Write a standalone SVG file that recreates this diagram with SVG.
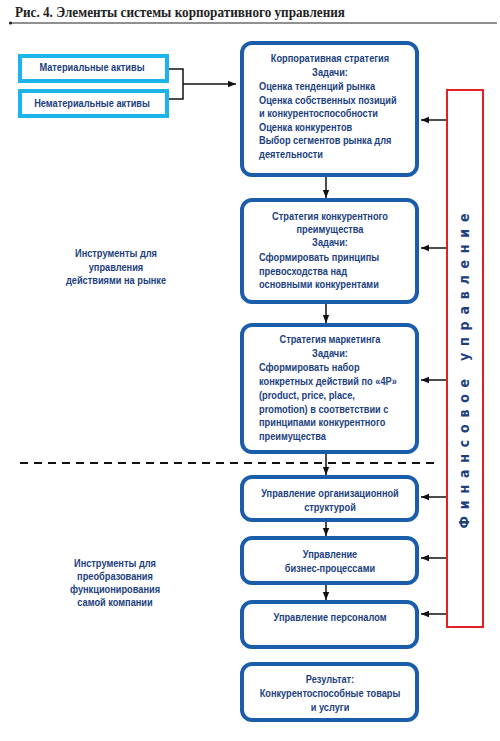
<svg xmlns="http://www.w3.org/2000/svg" width="500" height="741" viewBox="0 0 500 741">
<defs>
<marker id="ah" viewBox="0 0 10 10" refX="10" refY="5" markerWidth="8" markerHeight="8" markerUnits="userSpaceOnUse" orient="auto">
<path d="M0,1 L10,5 L0,9 z" fill="#111"/>
</marker>
<style>
.t{font-family:"Liberation Sans",Arial,sans-serif;font-weight:bold;font-size:11px;fill:#1c3f80}
.c{text-anchor:middle}
.box{fill:#fff;stroke:#1a5eab;stroke-width:4}
.lb{fill:#fff;stroke:#1cb4ea;stroke-width:4}
.cn{fill:none;stroke:#111;stroke-width:1.5}
.ar{fill:none;stroke:#111;stroke-width:1.5;marker-end:url(#ah)}
</style>
</defs>
<rect width="500" height="741" fill="#fff"/>
<g id="title">
<text x="15" y="17" font-family="Liberation Serif,serif" font-weight="bold" font-size="14" fill="#222" textLength="330" lengthAdjust="spacingAndGlyphs">Рис. 4. Элементы системы корпоративного управления</text>
<line x1="10" y1="23" x2="497" y2="23" stroke="#222" stroke-width="1.2"/>
<circle cx="10.5" cy="23" r="1.6" fill="#222"/>
</g>
<g id="connectors">
<polyline class="cn" points="168,69 183,69 183,99 168,99"/>
<line class="ar" x1="183" y1="84" x2="236" y2="84"/>
<line class="ar" x1="326" y1="176" x2="326" y2="198"/>
<line class="ar" x1="326" y1="303" x2="326" y2="323"/>
<line class="ar" x1="326" y1="453" x2="326" y2="475"/>
<line class="ar" x1="326" y1="521" x2="326" y2="536"/>
<line class="ar" x1="326" y1="584" x2="326" y2="600"/>
<line class="ar" x1="447" y1="120" x2="421" y2="120"/>
<line class="ar" x1="447" y1="248" x2="421" y2="248"/>
<line class="ar" x1="447" y1="380" x2="421" y2="380"/>
<line class="ar" x1="447" y1="497" x2="421" y2="497"/>
<line class="ar" x1="447" y1="558" x2="421" y2="558"/>
<line class="ar" x1="447" y1="614" x2="421" y2="614"/>
<line x1="20" y1="463" x2="440" y2="463" stroke="#111" stroke-width="2" stroke-dasharray="8,6"/>
</g>
<g id="tangible">
<rect class="lb" x="20" y="56" width="147" height="25"/>
<text class="t c" transform="translate(92 0) scale(0.84 1)" x="0" y="71">Материальные активы</text>
</g>
<g id="intangible">
<rect class="lb" x="20" y="91" width="147" height="25"/>
<text class="t c" transform="translate(92 0) scale(0.84 1)" x="0" y="107">Нематериальные активы</text>
</g>
<g id="corp-strategy">
<rect class="box" x="242" y="43" width="175" height="132" rx="10"/>
<g transform="translate(330 0) scale(0.84 1)">
<text class="t c" x="0" y="62">Корпоративная стратегия</text>
<text class="t c" x="0" y="76">Задачи:</text>
<text class="t" x="-84.5" y="90">Оценка тенденций рынка</text>
<text class="t" x="-84.5" y="104">Оценка собственных позиций</text>
<text class="t" x="-84.5" y="117">и конкурентоспособности</text>
<text class="t" x="-84.5" y="131">Оценка конкурентов</text>
<text class="t" x="-84.5" y="144">Выбор сегментов рынка для</text>
<text class="t" x="-84.5" y="158">деятельности</text>
</g>
</g>
<g id="comp-strategy">
<rect class="box" x="242" y="200" width="175" height="102" rx="10"/>
<g transform="translate(330 0) scale(0.84 1)">
<text class="t c" x="0" y="220">Стратегия конкурентного</text>
<text class="t c" x="0" y="233">преимущества</text>
<text class="t c" x="0" y="246">Задачи:</text>
<text class="t" x="-84.5" y="261">Сформировать принципы</text>
<text class="t" x="-84.5" y="275">превосходства над</text>
<text class="t" x="-84.5" y="288">основными конкурентами</text>
</g>
</g>
<g id="marketing">
<rect class="box" x="242" y="325" width="175" height="127" rx="10"/>
<g transform="translate(330 0) scale(0.84 1)">
<text class="t c" x="0" y="343">Стратегия маркетинга</text>
<text class="t c" x="0" y="357">Задачи:</text>
<text class="t" x="-84.5" y="371">Сформировать набор</text>
<text class="t" x="-84.5" y="385">конкретных действий по «4P»</text>
<text class="t" x="-84.5" y="399">(product, price, place,</text>
<text class="t" x="-84.5" y="413">promotion) в соответствии с</text>
<text class="t" x="-84.5" y="426">принципами конкурентного</text>
<text class="t" x="-84.5" y="440">преимущества</text>
</g>
</g>
<g id="org-structure">
<rect class="box" x="242" y="477" width="175" height="43" rx="10"/>
<g transform="translate(330 0) scale(0.84 1)">
<text class="t c" x="0" y="497">Управление организационной</text>
<text class="t c" x="0" y="511">структурой</text>
</g>
</g>
<g id="business-processes">
<rect class="box" x="242" y="538" width="175" height="45" rx="10"/>
<g transform="translate(330 0) scale(0.84 1)">
<text class="t c" x="0" y="558">Управление</text>
<text class="t c" x="0" y="572">бизнес-процессами</text>
</g>
</g>
<g id="personnel">
<rect class="box" x="242" y="602" width="175" height="45" rx="10"/>
<text class="t c" transform="translate(330 0) scale(0.84 1)" x="0" y="621">Управление персоналом</text>
</g>
<g id="result">
<rect class="box" x="242" y="664" width="175" height="56" rx="10"/>
<g transform="translate(330 0) scale(0.84 1)">
<text class="t c" x="0" y="683">Результат:</text>
<text class="t c" x="0" y="697">Конкурентоспособные товары</text>
<text class="t c" x="0" y="711">и услуги</text>
</g>
</g>
<g id="finance">
<rect x="447" y="90" width="36" height="537" fill="#fff" stroke="#e31e24" stroke-width="2"/>
<text transform="translate(469,371) rotate(-90)" text-anchor="middle" font-family="DejaVu Sans Condensed,sans-serif" font-weight="bold" font-size="14" fill="#1c3f80" textLength="315" lengthAdjust="spacing">Финансовое управление</text>
</g>
<g id="label-market" transform="translate(116 0) scale(0.84 1)">
<text class="t c" x="0" y="257">Инструменты для</text>
<text class="t c" x="0" y="271">управления</text>
<text class="t c" x="0" y="284">действиями на рынке</text>
</g>
<g id="label-transform" transform="translate(115 0) scale(0.84 1)">
<text class="t c" x="0" y="567">Инструменты для</text>
<text class="t c" x="0" y="580">преобразования</text>
<text class="t c" x="0" y="593">функционирования</text>
<text class="t c" x="0" y="606">самой компании</text>
</g>
</svg>
